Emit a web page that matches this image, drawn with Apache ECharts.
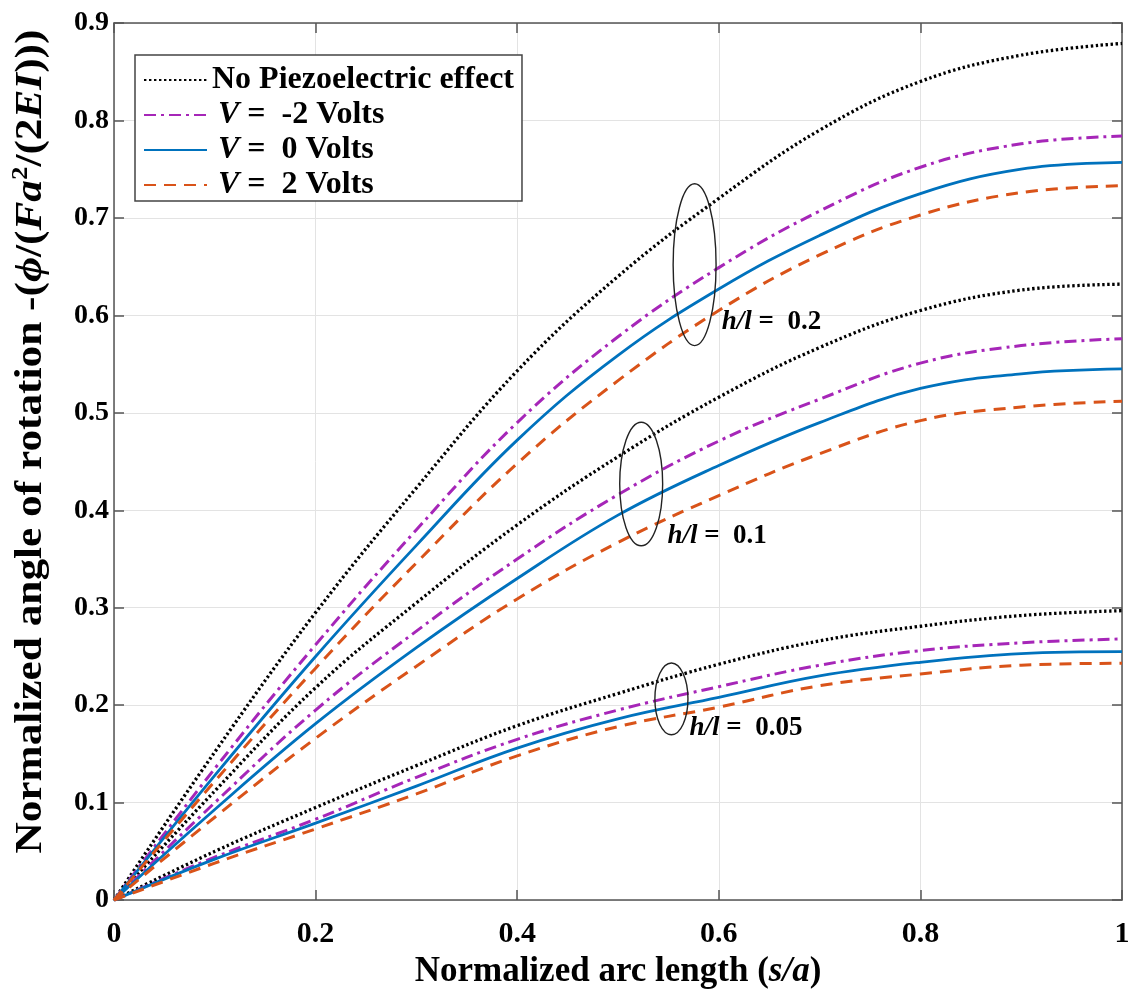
<!DOCTYPE html>
<html>
<head>
<meta charset="utf-8">
<script src="https://cdn.jsdelivr.net/npm/echarts@6/dist/echarts.min.js"></script>
<style>
  html, body { margin: 0; padding: 0; background: #ffffff; }
  #chart { width: 1136px; height: 994px; }
</style>
</head>
<body>
<div id="chart"></div>
<script>
// Normalized arc length s/a
const arcLength = [0, 0.1, 0.2, 0.3, 0.4, 0.5, 0.6, 0.7, 0.8, 0.9, 1.0];

// h/l = 0.2
const noPiezo_h020 = [0, 0.152, 0.295, 0.423, 0.543, 0.640, 0.720, 0.790, 0.840, 0.867, 0.879];
const vNeg2_h020   = [0, 0.135, 0.262, 0.380, 0.490, 0.578, 0.649, 0.707, 0.752, 0.776, 0.784];
const vZero_h020   = [0, 0.128, 0.250, 0.364, 0.472, 0.559, 0.627, 0.682, 0.725, 0.750, 0.757];
const vPos2_h020   = [0, 0.122, 0.238, 0.346, 0.448, 0.533, 0.605, 0.662, 0.703, 0.726, 0.733];

// h/l = 0.1
const noPiezo_h010 = [0, 0.112, 0.218, 0.305, 0.385, 0.455, 0.516, 0.567, 0.605, 0.626, 0.632];
const vNeg2_h010   = [0, 0.100, 0.195, 0.276, 0.350, 0.416, 0.471, 0.514, 0.551, 0.569, 0.576];
const vZero_h010   = [0, 0.093, 0.181, 0.259, 0.330, 0.395, 0.446, 0.490, 0.525, 0.540, 0.545];
const vPos2_h010   = [0, 0.085, 0.166, 0.240, 0.309, 0.367, 0.415, 0.458, 0.492, 0.506, 0.512];

// h/l = 0.05
const noPiezo_h005 = [0, 0.050, 0.095, 0.138, 0.179, 0.212, 0.242, 0.266, 0.281, 0.292, 0.297];
const vNeg2_h005   = [0, 0.044, 0.083, 0.126, 0.165, 0.195, 0.219, 0.241, 0.256, 0.264, 0.268];
const vZero_h005   = [0, 0.042, 0.079, 0.117, 0.156, 0.186, 0.208, 0.230, 0.244, 0.253, 0.255];
const vPos2_h005   = [0, 0.038, 0.073, 0.109, 0.148, 0.178, 0.198, 0.220, 0.232, 0.241, 0.243];

const legendNames = ['No Piezoelectric effect', 'V =  -2 Volts', 'V =  0 Volts', 'V =  2 Volts'];
const xTicks = [0, 0.2, 0.4, 0.6, 0.8, 1];
const yTicks = [0, 0.1, 0.2, 0.3, 0.4, 0.5, 0.6, 0.7, 0.8, 0.9];

// group annotations: label text, ellipse centre and label anchor (data units)
const groupLabels = ['0.2', '0.1', '0.05'];
const groupEllipseCentre = [[0.576, 0.652], [0.523, 0.427], [0.553, 0.2065]];
const groupLabelAnchor = [[0.603, 0.593], [0.549, 0.374], [0.571, 0.177]];

const FONT = '"Liberation Serif", "Times New Roman", "DejaVu Serif", serif';

const lineStyles = [
  { color: '#000000', width: 3.3, type: [2.4, 2.6] },
  { color: '#A626B8', width: 3, type: [12, 5, 3, 5] },
  { color: '#0072BD', width: 2.8, type: 'solid' },
  { color: '#D95319', width: 3, type: [12, 8] }
];

const groups = [
  [noPiezo_h020, vNeg2_h020, vZero_h020, vPos2_h020],
  [noPiezo_h010, vNeg2_h010, vZero_h010, vPos2_h010],
  [noPiezo_h005, vNeg2_h005, vZero_h005, vPos2_h005]
];

const series = [];
groups.forEach(function (grp) {
  grp.forEach(function (vals, k) {
    series.push({
      type: 'line',
      name: legendNames[k],
      data: arcLength.map(function (s, i) { return [s, vals[i]]; }),
      symbol: 'none',
      smooth: 0.4,
      lineStyle: lineStyles[k],
      itemStyle: { color: lineStyles[k].color },
      emphasis: { disabled: true },
      z: 3 + k
    });
  });
});

const axisColor = '#555555';
const chart = echarts.init(document.getElementById('chart'), null, { renderer: 'canvas' });

const option = {
  animation: false,
  backgroundColor: '#ffffff',
  grid: { left: 114, right: 14, top: 23, bottom: 91, containLabel: false },
  legend: {
    data: legendNames,
    orient: 'vertical',
    left: 135,
    top: 55,
    padding: [9, 8, 0, 8],
    itemGap: 3,
    itemWidth: 63,
    itemHeight: 14,
    backgroundColor: '#ffffff',
    borderColor: '#444444',
    borderWidth: 1.5,
    selectedMode: false,
    itemStyle: { opacity: 0, borderWidth: 0 },
    textStyle: { fontFamily: FONT, fontSize: 32, fontWeight: 'bold', color: '#000', lineHeight: 32,
      rich: {
        i: { fontFamily: FONT, fontSize: 32, fontWeight: 'bold', fontStyle: 'italic', color: '#000', lineHeight: 32, padding: [0, 0, 0, 6] },
        b: { fontFamily: FONT, fontSize: 32, fontWeight: 'bold', color: '#000', lineHeight: 32 }
      }
    },
    formatter: function (name) {
      if (name.charAt(0) === 'V') return '{i|V}{b|' + name.slice(1) + '}';
      return '{b|' + name + '}';
    }
  },
  xAxis: [{
    type: 'value', min: 0, max: 1, interval: 0.2,
    name: '{b|Normalized arc length (}{i|s/a}{b|)}',
    nameLocation: 'middle', nameGap: 52,
    nameTextStyle: {
      rich: {
        b: { fontFamily: FONT, fontSize: 35, fontWeight: 'bold', color: '#000' },
        i: { fontFamily: FONT, fontSize: 35, fontWeight: 'bold', fontStyle: 'italic', color: '#000' }
      }
    },
    axisLine: { show: true, onZero: false, lineStyle: { color: axisColor, width: 1.5 } },
    axisTick: { show: true, inside: true, length: 10, lineStyle: { color: axisColor, width: 1.5 } },
    axisLabel: { margin: 19, fontFamily: FONT, fontSize: 30, fontWeight: 'bold', color: '#000',
      formatter: function (v) { return String(xTicks.find(function (t) { return Math.abs(t - v) < 1e-9; })); } },
    splitLine: { show: true, lineStyle: { color: '#e3e3e3', width: 1 } }
  }, {
    type: 'value', min: 0, max: 1, interval: 0.2, position: 'top',
    axisLine: { show: true, onZero: false, lineStyle: { color: axisColor, width: 1.5 } },
    axisTick: { show: true, inside: true, length: 10, lineStyle: { color: axisColor, width: 1.5 } },
    axisLabel: { show: false }, splitLine: { show: false }
  }],
  yAxis: [{
    type: 'value', min: 0, max: 0.9, interval: 0.1,
    axisLine: { show: true, onZero: false, lineStyle: { color: axisColor, width: 1.5 } },
    axisTick: { show: true, inside: true, length: 10, lineStyle: { color: axisColor, width: 1.5 } },
    axisLabel: { margin: 5, fontFamily: FONT, fontSize: 28, fontWeight: 'bold', color: '#000',
      formatter: function (v) { return String(yTicks.find(function (t) { return Math.abs(t - v) < 1e-9; })); } },
    splitLine: { show: true, lineStyle: { color: '#e3e3e3', width: 1 } }
  }, {
    type: 'value', min: 0, max: 0.9, interval: 0.1, position: 'right',
    axisLine: { show: true, onZero: false, lineStyle: { color: axisColor, width: 1.5 } },
    axisTick: { show: true, inside: true, length: 10, lineStyle: { color: axisColor, width: 1.5 } },
    axisLabel: { show: false }, splitLine: { show: false }
  }],
  series: series
};

chart.setOption(option);

// y-axis title (stretched along its baseline), ellipses and h/l labels
function drawAnnotations() {
  const toPx = function (p) { return chart.convertToPixel({ xAxisIndex: 0, yAxisIndex: 0 }, p); };
  const ellipseHalf = [[0.0213, 0.083], [0.0213, 0.0634], [0.0164, 0.0368]];
  const elements = [];

  const yMid = toPx([0, 0.45]);
  elements.push({
    type: 'text',
    x: 31, y: yMid[1] - 20,
    rotation: Math.PI / 2,
    scaleX: 1.17, scaleY: 1,
    style: {
      text: '{b|Normalized angle of rotation -(}{i|ϕ}{b|/(}{i|Fa}{sup|2}{b|/(2}{i|EI}{b|)))}',
      align: 'center', verticalAlign: 'middle',
      rich: {
        b: { fontFamily: FONT, fontSize: 37, fontWeight: 'bold', fill: '#000', lineHeight: 42 },
        i: { fontFamily: FONT, fontSize: 37, fontWeight: 'bold', fontStyle: 'italic', fill: '#000', lineHeight: 42 },
        sup: { fontFamily: FONT, fontSize: 23, fontWeight: 'bold', fill: '#000', verticalAlign: 'top', lineHeight: 42 }
      }
    },
    z: 20
  });

  groupEllipseCentre.forEach(function (c, i) {
    const ctr = toPx(c);
    const edge = toPx([c[0] + ellipseHalf[i][0], c[1] + ellipseHalf[i][1]]);
    elements.push({
      type: 'ellipse',
      shape: { cx: ctr[0], cy: ctr[1], rx: Math.abs(edge[0] - ctr[0]), ry: Math.abs(ctr[1] - edge[1]) },
      style: { fill: null, stroke: '#222222', lineWidth: 1.4 },
      z: 20
    });
    const lp = toPx(groupLabelAnchor[i]);
    elements.push({
      type: 'text',
      x: lp[0], y: lp[1],
      style: {
        text: '{i|h/l}{b| =  ' + groupLabels[i] + '}',
        verticalAlign: 'middle', align: 'left',
        rich: {
          i: { fontFamily: FONT, fontSize: 27, fontWeight: 'bold', fontStyle: 'italic', fill: '#000' },
          b: { fontFamily: FONT, fontSize: 27, fontWeight: 'bold', fill: '#000' }
        }
      },
      z: 20
    });
  });
  chart.setOption({ graphic: elements });
}
drawAnnotations();
</script>
</body>
</html>
